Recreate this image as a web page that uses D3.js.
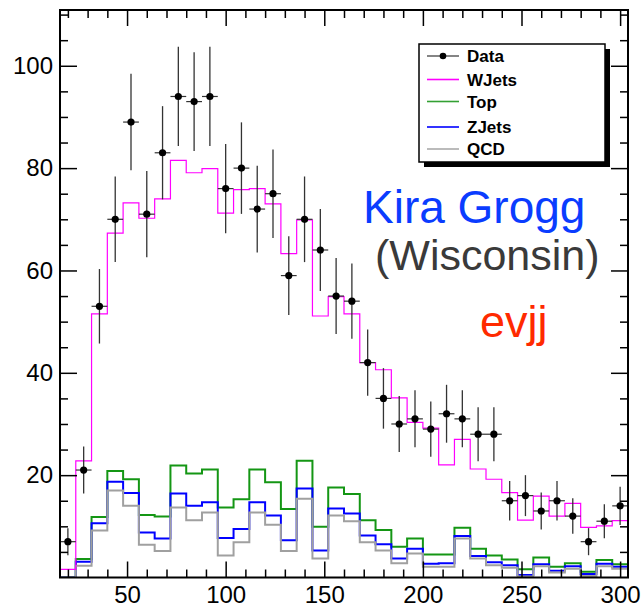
<!DOCTYPE html>
<html>
<head>
<meta charset="utf-8">
<script src="https://cdn.jsdelivr.net/npm/d3@7"></script>
<style>
  body { margin: 0; background: #fff; }
  svg { display: block; font-family: "Liberation Sans", Arial, Helvetica, sans-serif; }
</style>
</head>
<body>
<div id="chart"></div>
<script>
//Binning: 36 bins of width 8 from 16 to 304
const binLow = 16;
const binWidth = 8;

//Observed counts per bin
const dataCounts = [7, 21, 53, 70, 89, 71, 83, 94, 93, 94, 76, 80, 72, 75, 59, 70, 64, 55,
    54, 42, 35, 30, 31, 29, 32, 31, 28, 28, 15, 16, 13, 15, 12, 7, 11, 14];

//MC histograms
const wjetsHist = [1.6, 22.8, 51.5, 67.3, 73.2, 70.2, 74, 81.5, 79.1, 79.9, 71.2, 75.8, 76, 73,
    63.3, 69.9, 51.1, 54.9, 51.5, 42, 40.6, 35.1, 30.3, 29.2, 22, 27, 21.2, 19.2, 16.6, 11.2,
    15.9, 12, 14.5, 9.8, 10.1, 11.1];
const topHist = [0, 3.6, 11.8, 20.8, 19.2, 12.2, 11.9, 21.9, 20.3, 21.1, 13.7, 15.3, 21.1, 18.6,
    13.4, 22.8, 9.9, 17.6, 16.3, 11.2, 9.3, 6, 7.6, 4.5, 4.5, 9.7, 5.6, 4.3, 3.5, 1.6,
    3.9, 2.1, 2.8, 1.1, 3.4, 2.6];
const zjetsHist = [0, 3.1, 10.6, 18.7, 16.5, 8.8, 7.6, 16.4, 14, 14.7, 7.7, 9.5, 14.7, 12.1,
    7.3, 17.4, 5.3, 13.5, 12.5, 8.2, 6.5, 3.7, 5.6, 2.7, 2.8, 8.1, 4.2, 3, 2.4, 0.5,
    2.6, 1.3, 2.2, 0.7, 2.7, 2.1];
const qcdHist = [0, 2.3, 9.2, 17, 14, 6.4, 5.2, 13.7, 11.2, 12.7, 4.3, 6.9, 12.7, 10.3,
    5.2, 15.4, 3.7, 12.1, 11, 6.9, 5.3, 2.8, 4.7, 2.1, 2.1, 7.6, 3.7, 2.4, 1.9, 0.2,
    2.2, 1, 1.7, 0.3, 2.2, 1.7];

//Axis ticks
const xTicks = [50, 100, 150, 200, 250, 300];
const yTicks = [20, 40, 60, 80, 100];

//Legend entries
const legendNames = ["Data", "WJets", "Top", "ZJets", "QCD"];
const legendColors = ["#333", "#ff00ff", "#33a033", "#0000ff", "#aaa"];

//Width and height
var w = 641;
var h = 606;
var margin = { left: 60, right: 13, top: 10, bottom: 28.5 };

var svg = d3.select("#chart")
    .append("svg")
    .attr("width", w)
    .attr("height", h);

var nBins = dataCounts.length;
var x = d3.scaleLinear()
    .domain([binLow, binLow + nBins * binWidth])
    .range([margin.left, w - margin.right]);
var y = d3.scaleLinear()
    .domain([0, 110.9])
    .range([h - margin.bottom, margin.top]);

//Histograms (drawn as steps)
var step = d3.line()
    .x(d => x(d[0]))
    .y(d => y(d[1]))
    .curve(d3.curveStepAfter);

function stepPoints(vals) {
    var pts = vals.map((v, i) => [binLow + i * binWidth, v]);
    pts.push([binLow + nBins * binWidth, vals[nBins - 1]]);
    return pts;
}

var hists = [
    { vals: topHist, color: "#149614", width: 2 },
    { vals: zjetsHist, color: "#0000ff", width: 2 },
    { vals: qcdHist, color: "#a0a0a0", width: 2 },
    { vals: wjetsHist, color: "#ff00ff", width: 1.2 }
];

svg.append("defs").append("clipPath").attr("id", "frame")
    .append("rect")
    .attr("x", margin.left).attr("y", margin.top)
    .attr("width", w - margin.left - margin.right)
    .attr("height", h - margin.top - margin.bottom);

svg.append("g")
    .attr("clip-path", "url(#frame)")
    .selectAll("path")
    .data(hists)
    .join("path")
    .attr("d", d => step(stepPoints(d.vals)))
    .attr("fill", "none")
    .attr("stroke", d => d.color)
    .attr("stroke-width", d => d.width);

//Data points with errors
var pts = svg.append("g")
    .selectAll("g")
    .data(dataCounts)
    .join("g");

pts.append("line")
    .attr("x1", (d, i) => x(binLow + i * binWidth))
    .attr("x2", (d, i) => x(binLow + (i + 1) * binWidth))
    .attr("y1", d => y(d))
    .attr("y2", d => y(d))
    .attr("stroke", "#333")
    .attr("stroke-width", 1.2);

pts.append("line")
    .attr("x1", (d, i) => x(binLow + (i + 0.5) * binWidth))
    .attr("x2", (d, i) => x(binLow + (i + 0.5) * binWidth))
    .attr("y1", d => y(d - Math.sqrt(d)))
    .attr("y2", d => y(d + Math.sqrt(d)))
    .attr("stroke", "#333")
    .attr("stroke-width", 1.3);

pts.append("circle")
    .attr("cx", (d, i) => x(binLow + (i + 0.5) * binWidth))
    .attr("cy", d => y(d))
    .attr("r", 3.6)
    .attr("fill", "#000");

//Axes: ticks on all four sides
var x0 = margin.left, x1 = w - margin.right;
var y0 = h - margin.bottom, y1 = margin.top;
var xMinor = d3.range(20, 301, 10).filter(v => v % 50 != 0);
var yMinor = d3.range(5, 111, 5).filter(v => v % 20 != 0);

function styleAxis(g) {
    g.select(".domain").remove();
    g.selectAll("line").attr("stroke", "#000").attr("stroke-width", 1.5);
}

svg.append("g")
    .attr("transform", `translate(0,${y0})`)
    .call(d3.axisBottom(x).tickValues(xTicks).tickSize(-16).tickPadding(8).tickFormat(d3.format("d")))
    .call(styleAxis)
    .call(g => g.selectAll("text")
        .attr("fill", "#000")
        .style("font-size", "24px"));

svg.append("g")
    .attr("transform", `translate(0,${y0})`)
    .call(d3.axisBottom(x).tickValues(xMinor).tickSize(-8).tickFormat(""))
    .call(styleAxis);

svg.append("g")
    .attr("transform", `translate(0,${y1})`)
    .call(d3.axisTop(x).tickValues(xTicks).tickSize(-16).tickFormat(""))
    .call(styleAxis);

svg.append("g")
    .attr("transform", `translate(0,${y1})`)
    .call(d3.axisTop(x).tickValues(xMinor).tickSize(-8).tickFormat(""))
    .call(styleAxis);

svg.append("g")
    .attr("transform", `translate(${x0},0)`)
    .call(d3.axisLeft(y).tickValues(yTicks).tickSize(-17).tickPadding(7).tickFormat(d3.format("d")))
    .call(styleAxis)
    .call(g => g.selectAll("text")
        .attr("fill", "#000")
        .style("font-size", "24px"));

svg.append("g")
    .attr("transform", `translate(${x0},0)`)
    .call(d3.axisLeft(y).tickValues(yMinor).tickSize(-8).tickFormat(""))
    .call(styleAxis);

svg.append("g")
    .attr("transform", `translate(${x1},0)`)
    .call(d3.axisRight(y).tickValues(yTicks).tickSize(-17).tickFormat(""))
    .call(styleAxis);

svg.append("g")
    .attr("transform", `translate(${x1},0)`)
    .call(d3.axisRight(y).tickValues(yMinor).tickSize(-8).tickFormat(""))
    .call(styleAxis);

//Frame
svg.append("rect")
    .attr("x", x0).attr("y", y1)
    .attr("width", x1 - x0).attr("height", y0 - y1)
    .attr("fill", "none")
    .attr("stroke", "#000")
    .attr("stroke-width", 2);

//Legend
var lg = svg.append("g").attr("transform", "translate(419,44)");
lg.append("rect")
    .attr("x", 5).attr("y", 5)
    .attr("width", 186).attr("height", 118)
    .attr("fill", "#000");
lg.append("rect")
    .attr("width", 186).attr("height", 118)
    .attr("fill", "#fff")
    .attr("stroke", "#000")
    .attr("stroke-width", 1.5);

var legendY = [12, 35.5, 57.5, 83, 105];
var item = lg.selectAll("g.item")
    .data(legendNames)
    .join("g")
    .attr("class", "item")
    .attr("transform", (d, i) => `translate(0,${legendY[i]})`);

item.append("line")
    .attr("x1", 8).attr("x2", 40)
    .attr("stroke", (d, i) => legendColors[i])
    .attr("stroke-width", (d, i) => i == 0 ? 1.2 : 1.6);

item.filter((d, i) => i == 0)
    .append("circle")
    .attr("cx", 24).attr("r", 3.3)
    .attr("fill", "#000");

item.append("text")
    .attr("x", 48)
    .attr("dy", "0.36em")
    .text(d => d)
    .style("font-size", "17px")
    .style("font-weight", "bold");

//Labels
svg.append("text")
    .attr("x", 363).attr("y", 223)
    .text("Kira Grogg")
    .attr("fill", "#0a3cff")
    .style("font-size", "46px");

svg.append("text")
    .attr("x", 375).attr("y", 270)
    .text("(Wisconsin)")
    .attr("fill", "#3a3a3a")
    .style("font-size", "43px");

svg.append("text")
    .attr("x", 480).attr("y", 337)
    .text("evjj")
    .attr("fill", "#ff2a00")
    .style("font-size", "45px");
</script>
</body>
</html>
